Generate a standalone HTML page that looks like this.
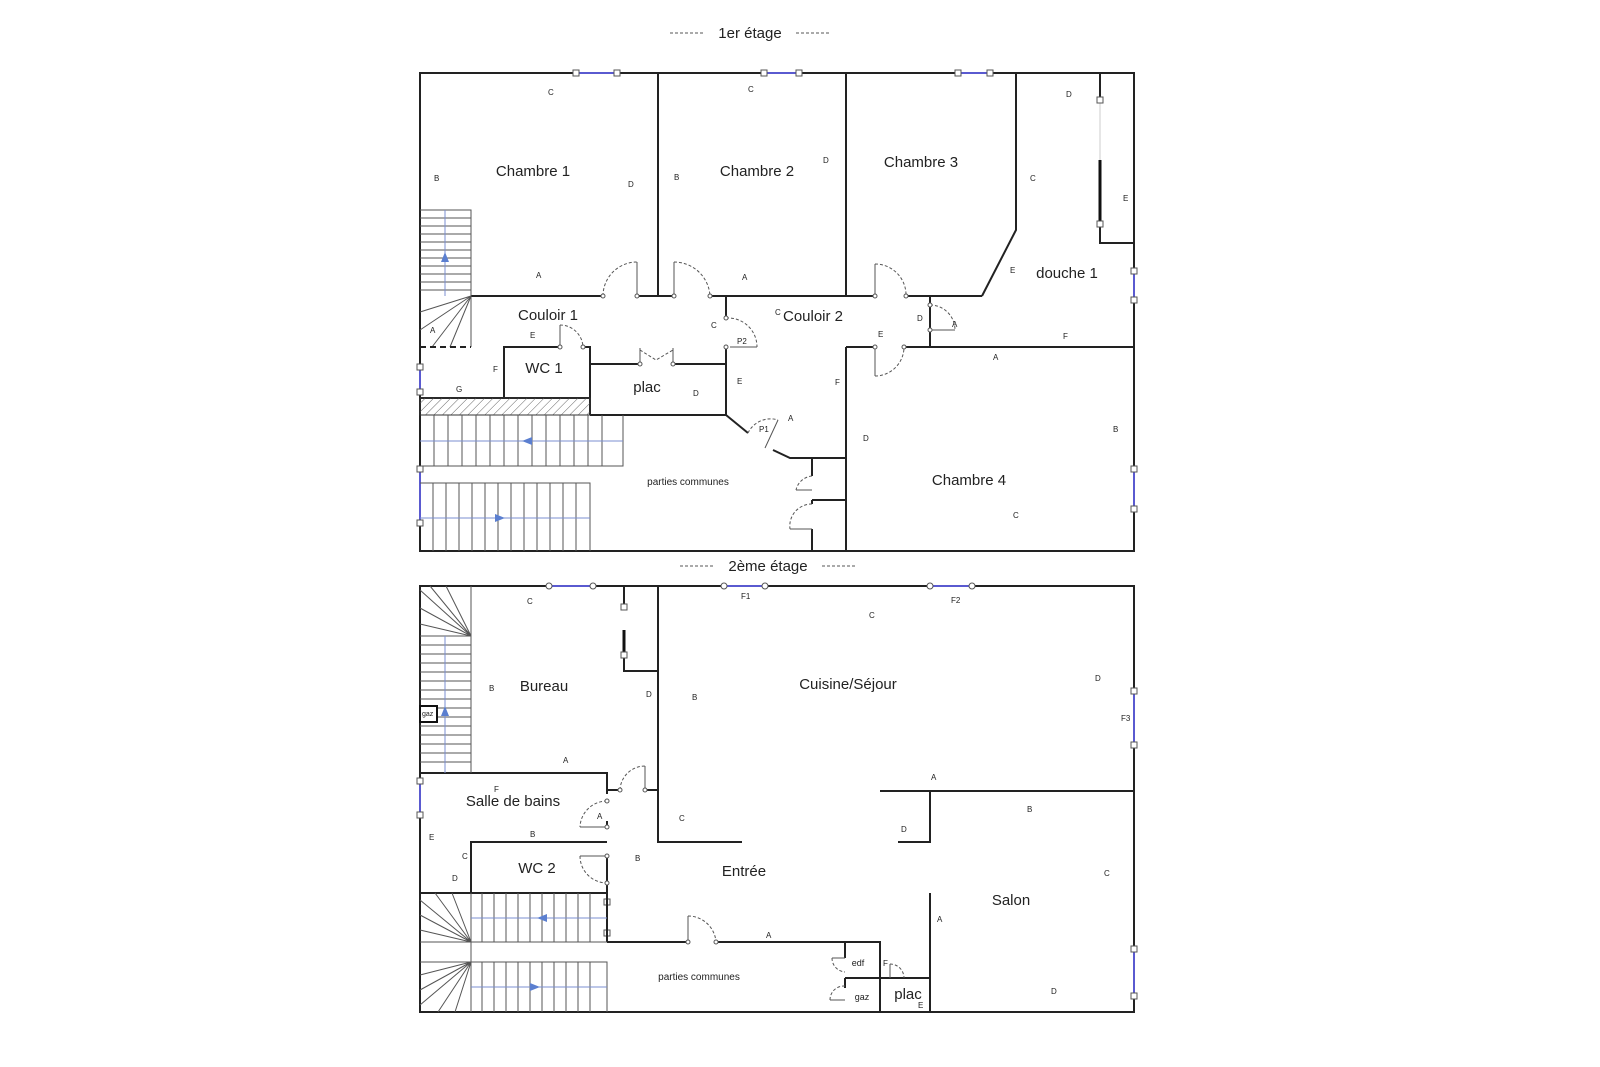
<!DOCTYPE html>
<html><head><meta charset="utf-8"><style>
html,body{margin:0;padding:0;background:#fff;}
svg{display:block}
text{font-family:"Liberation Sans","DejaVu Sans",sans-serif;fill:#222}
.w{stroke:#222;stroke-width:2;fill:none}
.t{stroke:#555;stroke-width:1;fill:none}
.d{stroke:#555;stroke-width:1;fill:none;stroke-dasharray:3,2}
.b{stroke:#7b8fd0;stroke-width:1;fill:none}
.win{stroke:#5a5ad0;stroke-width:2}
.n{fill:#fff;stroke:#555;stroke-width:1}
.l{font-size:8px;fill:#444}
.r{font-size:15px}
</style></head><body>
<svg width="1600" height="1067" viewBox="0 0 1600 1067">
<defs>
<pattern id="h" width="6" height="6" patternUnits="userSpaceOnUse" patternTransform="rotate(45)"><line x1="0" y1="0" x2="0" y2="6" stroke="#666" stroke-width="1"/></pattern>
</defs>
<text x="750" y="38" font-size="15" text-anchor="middle">1er étage</text>
<line x1="670" y1="33" x2="703" y2="33" class="d"/><line x1="796" y1="33" x2="829" y2="33" class="d"/>
<text x="768" y="571" font-size="15" text-anchor="middle">2ème étage</text>
<line x1="680" y1="566" x2="713" y2="566" class="d"/><line x1="822" y1="566" x2="856" y2="566" class="d"/>

<rect x="420" y="73" width="714" height="478" class="w"/>
<g>
<line x1="576" y1="73" x2="617" y2="73" class="win"/><rect x="573" y="70" width="6" height="6" class="n"/><rect x="614" y="70" width="6" height="6" class="n"/>
<line x1="764" y1="73" x2="799" y2="73" class="win"/><rect x="761" y="70" width="6" height="6" class="n"/><rect x="796" y="70" width="6" height="6" class="n"/>
<line x1="958" y1="73" x2="990" y2="73" class="win"/><rect x="955" y="70" width="6" height="6" class="n"/><rect x="987" y="70" width="6" height="6" class="n"/>
<line x1="1134" y1="271" x2="1134" y2="300" class="win"/><rect x="1131" y="268" width="6" height="6" class="n"/><rect x="1131" y="297" width="6" height="6" class="n"/>
<line x1="1134" y1="469" x2="1134" y2="509" class="win"/><rect x="1131" y="466" width="6" height="6" class="n"/><rect x="1131" y="506" width="6" height="6" class="n"/>
<line x1="420" y1="367" x2="420" y2="392" class="win"/><rect x="417" y="364" width="6" height="6" class="n"/><rect x="417" y="389" width="6" height="6" class="n"/>
<line x1="420" y1="469" x2="420" y2="523" class="win"/><rect x="417" y="466" width="6" height="6" class="n"/><rect x="417" y="520" width="6" height="6" class="n"/>
</g>
<path class="w" d="M658 73V296 M846 73V296 M1016 73V230L982 296 M471 296H603 M637 296H674 M710 296H875 M906 296H982
M1100 73V100 M1100 224V243H1134 M726 296V318 M726 347V415 M846 347H875 M904 347H1134 M930 296V347 M846 347V551
M504 398V347H560 M583 347H590V415 M590 364H640 M673 364H726 M590 415H726 M420 398H590
M726 415L748 433 M773 450L790 458H846 M812 458V476 M812 500V504 M812 529V551 M812 500H846"/>
<line x1="1100" y1="160" x2="1100" y2="224" stroke="#111" stroke-width="3"/>
<line x1="1100" y1="100" x2="1100" y2="160" stroke="#ccc" stroke-width="1"/>
<rect x="1097" y="97" width="6" height="6" class="n"/><rect x="1097" y="221" width="6" height="6" class="n"/>
<path class="t" d="M637 296V262 M674 296V262 M875 296V264 M730 347H757 M875 347V376 M930 330H955 M560 347V325 M640 364V348 M673 364V348"/>
<path class="d" d="M603 296A34 34 0 0 1 637 262 M674 262A36 36 0 0 1 710 296 M875 264A31 31 0 0 1 906 296 M726 318A29 29 0 0 1 757 347 M875 376A29 29 0 0 0 904 347 M930 305A25 25 0 0 1 955 330 M560 325A23 23 0 0 1 583 347 M640 350L656 360L673 350 M748 433A25 25 0 0 1 778 420 M812 476A18 18 0 0 0 796 490 M812 504A22 22 0 0 0 790 529"/>
<path class="t" d="M796 490H812 M790 529H812 M778 420L765 448"/>
<g fill="#fff" stroke="#555"><circle cx="603" cy="296" r="2"/><circle cx="637" cy="296" r="2"/><circle cx="674" cy="296" r="2"/><circle cx="710" cy="296" r="2"/><circle cx="875" cy="296" r="2"/><circle cx="906" cy="296" r="2"/><circle cx="726" cy="318" r="2"/><circle cx="726" cy="347" r="2"/><circle cx="875" cy="347" r="2"/><circle cx="904" cy="347" r="2"/><circle cx="560" cy="347" r="2"/><circle cx="583" cy="347" r="2"/><circle cx="640" cy="364" r="2"/><circle cx="673" cy="364" r="2"/><circle cx="930" cy="305" r="2"/><circle cx="930" cy="330" r="2"/></g>
<path class="t" d="M420 210H471V347 M420 218H471 M420 226H471 M420 234H471 M420 242H471 M420 250H471 M420 258H471 M420 266H471 M420 274H471 M420 282H471 M420 290H471 M471 296L420 312 M471 296L420 330 M471 296L432 347 M471 296L450 347"/>
<line x1="445" y1="210" x2="445" y2="296" class="b"/><polygon points="445,252 441,262 449,262" fill="#5b7fd0"/>
<line x1="420" y1="347" x2="471" y2="347" stroke="#222" stroke-width="2" stroke-dasharray="6,4"/>
<rect x="420" y="398" width="170" height="17" fill="url(#h)" stroke="#333"/>
<path class="t" d="M420 466H623V415 M434 415V466 M448 415V466 M462 415V466 M476 415V466 M490 415V466 M504 415V466 M518 415V466 M532 415V466 M546 415V466 M560 415V466 M574 415V466 M588 415V466 M602 415V466"/>
<line x1="420" y1="441" x2="623" y2="441" class="b"/><polygon points="522,441 532,437 532,445" fill="#5b7fd0"/>
<path class="t" d="M420 483H590V551 M433 483V551 M446 483V551 M459 483V551 M472 483V551 M485 483V551 M498 483V551 M511 483V551 M524 483V551 M537 483V551 M550 483V551 M563 483V551 M576 483V551"/>
<line x1="420" y1="518" x2="590" y2="518" class="b"/><polygon points="505,518 495,514 495,522" fill="#5b7fd0"/>
<text x="533" y="176" class="r" text-anchor="middle">Chambre 1</text>
<text x="757" y="176" class="r" text-anchor="middle">Chambre 2</text>
<text x="921" y="167" class="r" text-anchor="middle">Chambre 3</text>
<text x="1067" y="278" class="r" text-anchor="middle">douche 1</text>
<text x="548" y="320" class="r" text-anchor="middle">Couloir 1</text>
<text x="813" y="321" class="r" text-anchor="middle">Couloir 2</text>
<text x="544" y="373" class="r" text-anchor="middle">WC 1</text>
<text x="647" y="392" class="r" text-anchor="middle">plac</text>
<text x="969" y="485" class="r" text-anchor="middle">Chambre 4</text>
<text x="688" y="485" font-size="10" text-anchor="middle">parties communes</text>
<g class="l"><text x="548" y="95">C</text><text x="434" y="181">B</text><text x="628" y="187">D</text><text x="536" y="278">A</text><text x="748" y="92">C</text><text x="674" y="180">B</text><text x="823" y="163">D</text><text x="742" y="280">A</text><text x="1066" y="97">D</text><text x="1030" y="181">C</text><text x="1123" y="201">E</text><text x="1010" y="273">E</text><text x="1063" y="339">F</text><text x="993" y="360">A</text><text x="430" y="333">A</text><text x="530" y="338">E</text><text x="493" y="372">F</text><text x="456" y="392">G</text><text x="693" y="396">D</text><text x="711" y="328">C</text><text x="737" y="344">P2</text><text x="737" y="384">E</text><text x="788" y="421">A</text><text x="759" y="432">P1</text><text x="835" y="385">F</text><text x="878" y="337">E</text><text x="917" y="321">D</text><text x="952" y="327">A</text><text x="863" y="441">D</text><text x="1113" y="432">B</text><text x="1013" y="518">C</text><text x="775" y="315">C</text></g>

<rect x="420" y="586" width="714" height="426" class="w"/>
<g>
<line x1="549" y1="586" x2="593" y2="586" class="win"/><circle cx="549" cy="586" r="3" class="n"/><circle cx="593" cy="586" r="3" class="n"/>
<line x1="724" y1="586" x2="765" y2="586" class="win"/><circle cx="724" cy="586" r="3" class="n"/><circle cx="765" cy="586" r="3" class="n"/>
<line x1="930" y1="586" x2="972" y2="586" class="win"/><circle cx="930" cy="586" r="3" class="n"/><circle cx="972" cy="586" r="3" class="n"/>
<line x1="1134" y1="691" x2="1134" y2="745" class="win"/><rect x="1131" y="688" width="6" height="6" class="n"/><rect x="1131" y="742" width="6" height="6" class="n"/>
<line x1="1134" y1="949" x2="1134" y2="996" class="win"/><rect x="1131" y="946" width="6" height="6" class="n"/><rect x="1131" y="993" width="6" height="6" class="n"/>
<line x1="420" y1="781" x2="420" y2="815" class="win"/><rect x="417" y="778" width="6" height="6" class="n"/><rect x="417" y="812" width="6" height="6" class="n"/>
<line x1="607" y1="902" x2="607" y2="933" class="win"/><rect x="604" y="899" width="6" height="6" class="n"/><rect x="604" y="930" width="6" height="6" class="n"/>
</g>
<path class="w" d="M624 586V607 M624 655V671H658 M658 586V842H742 M420 773H607V790H620 M645 790H658 M607 790V794 M607 821V827 M607 856V942
M471 893V842H607 M420 893H607 M607 942H688 M716 942H880V1012 M845 942V958 M845 978V988 M845 978H930 M880 978H890 M910 978H930V893 M930 978V1012 M880 791H1134 M930 791V842H898"/>
<line x1="624" y1="630" x2="624" y2="653" stroke="#111" stroke-width="3"/>
<rect x="621" y="604" width="6" height="6" class="n"/><rect x="621" y="652" width="6" height="6" class="n"/>
<path class="t" d="M645 790V766 M580 827H607 M580 856H607 M688 942V916 M845 958H832 M845 1000H830 M890 978V964"/>
<path class="d" d="M620 790A25 25 0 0 1 645 766 M607 801A27 27 0 0 0 580 827 M580 856A27 27 0 0 0 607 883 M688 916A28 28 0 0 1 716 942 M832 958A14 14 0 0 0 845 972 M830 1000A14 14 0 0 1 845 986 M890 964A14 14 0 0 1 904 978"/>
<g fill="#fff" stroke="#555"><circle cx="620" cy="790" r="2"/><circle cx="645" cy="790" r="2"/><circle cx="607" cy="801" r="2"/><circle cx="607" cy="827" r="2"/><circle cx="607" cy="856" r="2"/><circle cx="607" cy="883" r="2"/><circle cx="688" cy="942" r="2"/><circle cx="716" cy="942" r="2"/></g>
<path class="t" d="M471 586V773 M420 636H471 M420 645H471 M420 654H471 M420 663H471 M420 672H471 M420 681H471 M420 690H471 M420 699H471 M420 708H471 M420 717H471 M420 726H471 M420 735H471 M420 744H471 M420 753H471 M420 762H471 M471 636L420 590 M471 636L430 586 M471 636L446 586 M471 636L420 608 M471 636L420 624"/>
<line x1="445" y1="636" x2="445" y2="773" class="b"/><polygon points="445,706 441,716 449,716" fill="#5b7fd0"/>
<rect x="420" y="706" width="17" height="16" fill="#fff" stroke="#111" stroke-width="2"/><text x="422" y="716" font-size="7">gaz</text>
<path class="t" d="M471 893V1012 M420 942H471 M420 962H471 M471 942L420 900 M471 942L420 915 M471 942L420 930 M471 942L435 893 M471 942L452 893 M471 962L420 975 M471 962L420 990 M471 962L420 1005 M471 962L438 1012 M471 962L455 1012"/>
<path class="t" d="M482 893V942 M494 893V942 M506 893V942 M518 893V942 M530 893V942 M542 893V942 M554 893V942 M566 893V942 M578 893V942 M590 893V942 M471 942H607"/>
<line x1="471" y1="918" x2="607" y2="918" class="b"/><polygon points="537,918 547,914 547,922" fill="#5b7fd0"/>
<path class="t" d="M471 962H607V1012 M482 962V1012 M494 962V1012 M506 962V1012 M518 962V1012 M530 962V1012 M542 962V1012 M554 962V1012 M566 962V1012 M578 962V1012 M590 962V1012"/>
<line x1="471" y1="987" x2="607" y2="987" class="b"/><polygon points="540,987 530,983 530,991" fill="#5b7fd0"/>
<text x="544" y="691" class="r" text-anchor="middle">Bureau</text>
<text x="848" y="689" class="r" text-anchor="middle">Cuisine/Séjour</text>
<text x="513" y="806" class="r" text-anchor="middle">Salle de bains</text>
<text x="537" y="873" class="r" text-anchor="middle">WC 2</text>
<text x="744" y="876" class="r" text-anchor="middle">Entrée</text>
<text x="1011" y="905" class="r" text-anchor="middle">Salon</text>
<text x="908" y="999" class="r" text-anchor="middle">plac</text>
<text x="699" y="980" font-size="10" text-anchor="middle">parties communes</text>
<text x="858" y="966" font-size="9" text-anchor="middle">edf</text>
<text x="862" y="1000" font-size="9" text-anchor="middle">gaz</text>
<g class="l"><text x="527" y="604">C</text><text x="489" y="691">B</text><text x="646" y="697">D</text><text x="563" y="763">A</text><text x="741" y="599">F1</text><text x="869" y="618">C</text><text x="951" y="603">F2</text><text x="692" y="700">B</text><text x="1095" y="681">D</text><text x="1121" y="721">F3</text><text x="931" y="780">A</text><text x="1027" y="812">B</text><text x="1104" y="876">C</text><text x="901" y="832">D</text><text x="937" y="922">A</text><text x="1051" y="994">D</text><text x="679" y="821">C</text><text x="635" y="861">B</text><text x="766" y="938">A</text><text x="597" y="819">A</text><text x="494" y="792">F</text><text x="530" y="837">B</text><text x="429" y="840">E</text><text x="462" y="859">C</text><text x="452" y="881">D</text><text x="883" y="966">F</text><text x="918" y="1008">E</text></g>
</svg>
</body></html>
